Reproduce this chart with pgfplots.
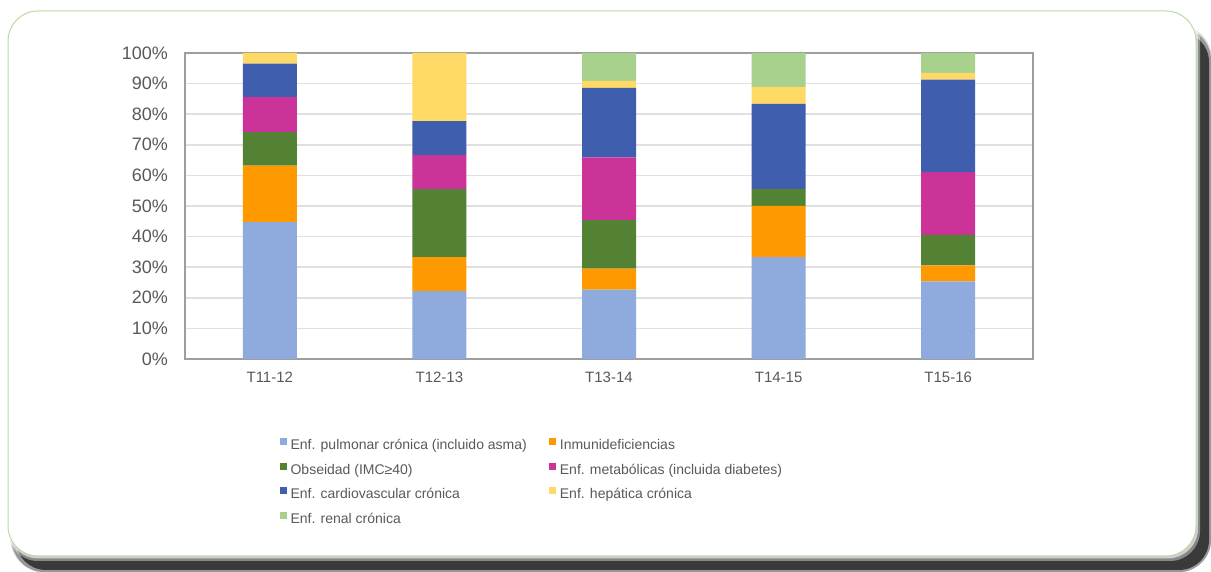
\documentclass[border=0pt]{standalone}
\usepackage{fontspec}
\setmainfont{Liberation Sans}
\usepackage{pgfplots}
\usepackage{pgfplotstable}
\pgfplotsset{compat=1.18}

\definecolor{cPulm}{HTML}{8FAADC}
\definecolor{cInmun}{HTML}{FF9900}
\definecolor{cObes}{HTML}{548235}
\definecolor{cMetab}{HTML}{CC3399}
\definecolor{cCardio}{HTML}{3F5FAE}
\definecolor{cHep}{HTML}{FFD966}
\definecolor{cRenal}{HTML}{A9D18E}
\definecolor{txt}{HTML}{595959}
\definecolor{shadowgray}{HTML}{3A3A3A}

% share of each group, % of the season total
\pgfplotstableread{
x pulm inmun obes metab cardio hep renal
0 44.7 18.5 10.9 11.5 10.9 3.5 0
1 22.2 11.1 22.2 11.1 11.1 22.3 0
2 22.7 6.8 15.9 20.5 22.7 2.3 9.1
3 33.3 16.7 5.6 0 27.8 5.5 11.1
4 25.4 5.2 10.0 20.5 30.2 2.2 6.5
}\datatable

\begin{document}
\begin{tikzpicture}
\useasboundingbox (0,0) rectangle (605.5pt,286pt);
% card shadow and frame
\fill[shadowgray, opacity=0.2, rounded corners=18pt] (5pt,-0.5pt) rectangle (606pt,274pt);
\fill[shadowgray, opacity=0.4, rounded corners=16pt] (6pt,0pt) rectangle (605.5pt,272pt);
\fill[shadowgray, rounded corners=15pt] (8pt,1pt) rectangle (604.5pt,270pt);
\fill[white, opacity=0.4, rounded corners=15pt] (4pt,5.5pt) rectangle (600pt,280.5pt);
\fill[white, opacity=0.6, rounded corners=15pt] (4pt,6.8pt) rectangle (599pt,280.5pt);
\filldraw[fill=white, draw=cRenal!80!white, line width=0.5pt, rounded corners=15pt] (4pt,8pt) rectangle (598pt,280.5pt);

\begin{axis}[
  at={(92.5pt,106.5pt)},
  anchor=south west,
  scale only axis,
  width=424pt,
  height=153pt,
  ybar stacked,
  bar width=27pt,
  ymin=0, ymax=100,
  xmin=-0.5, xmax=4.5,
  ytick={0,10,...,100},
  yticklabel={\pgfmathprintnumber{\tick}\%},
  xtick={0,1,2,3,4},
  xticklabels={T11-12,T12-13,T13-14,T14-15,T15-16},
  major tick length=0pt,
  ymajorgrids,
  grid style={draw=black!12, line width=0.8pt},
  axis line style={draw=black!38, line width=1pt},
  /pgf/number format/assume math mode=true,
  yticklabel style={font=\fontsize{9}{10}\selectfont, text=txt, xshift=-5pt},
  xticklabel style={font=\fontsize{7.5}{9}\selectfont, text=txt, yshift=-3pt},
  legend columns=2,
  legend cell align=left,
  legend image code/.code={\fill[#1] (0pt,0.4pt) rectangle (3.5pt,3.9pt);},
  legend style={
    at={(0.104,-0.236)}, anchor=north west,
    draw=none, fill=none,
    font=\fontsize{7}{8.5}\selectfont, text=txt,
    row sep=1.6pt,
    /tikz/every even column/.append style={column sep=9pt},
  },
  every axis plot/.append style={draw=none},
]
\addplot[fill=cPulm]   table[x=x, y=pulm]   {\datatable};
\addplot[fill=cInmun]  table[x=x, y=inmun]  {\datatable};
\addplot[fill=cObes]   table[x=x, y=obes]   {\datatable};
\addplot[fill=cMetab]  table[x=x, y=metab]  {\datatable};
\addplot[fill=cCardio] table[x=x, y=cardio] {\datatable};
\addplot[fill=cHep]    table[x=x, y=hep]    {\datatable};
\addplot[fill=cRenal]  table[x=x, y=renal]  {\datatable};
\legend{Enf. pulmonar crónica (incluido asma), Inmunideficiencias,
  Obseidad (IMC≥40), Enf. metabólicas (incluida diabetes),
  Enf. cardiovascular crónica, Enf. hepática crónica,
  Enf. renal crónica}
\end{axis}
\end{tikzpicture}
\end{document}
